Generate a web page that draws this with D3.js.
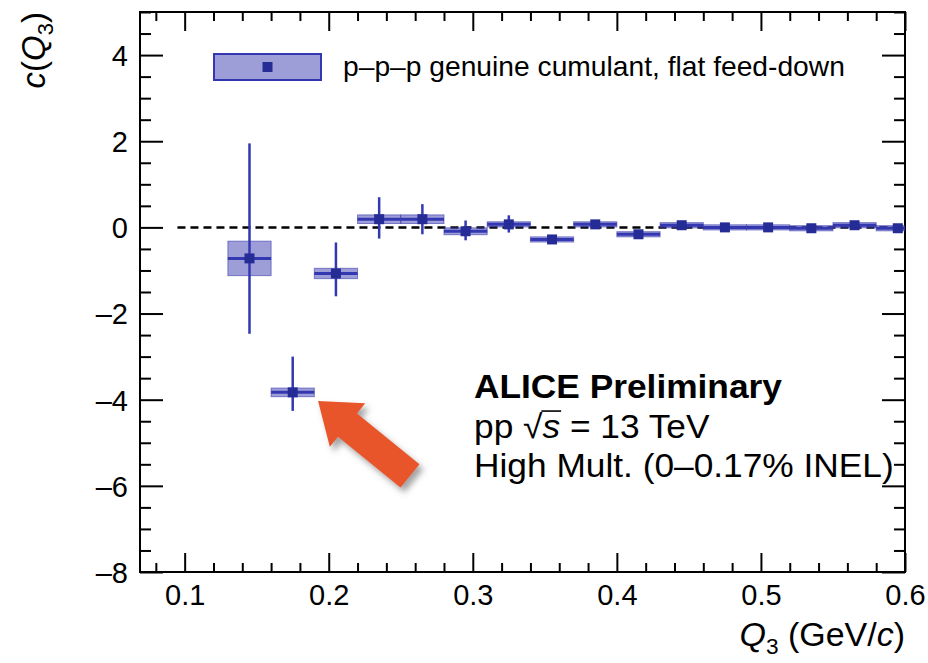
<!DOCTYPE html>
<html><head><meta charset="utf-8">
<script src="https://cdn.jsdelivr.net/npm/d3@7"></script>
<style>
body{margin:0;background:#fff}
svg{display:block}
text{font-family:"Liberation Sans",Arial,Helvetica,sans-serif;fill:#000}
</style>
</head><body>
<svg id="chart" width="928" height="663"></svg>
<script>
// ---- data ----
const q3Centers = [0.145,0.175,0.205,0.235,0.265,0.295,0.325,0.355,0.385,0.415,0.445,0.475,0.505,0.535,0.565,0.595];
const cumulant  = [-0.72,-3.83,-1.07,0.19,0.19,-0.09,0.07,-0.28,0.07,-0.16,0.05,0.0,0.0,-0.02,0.05,-0.02];
const statUp    = [2.67,0.83,0.72,0.51,0.35,0.25,0.21,0.10,0.09,0.08,0.06,0.06,0.06,0.06,0.06,0.06];
const statDown  = [1.75,0.43,0.53,0.45,0.35,0.21,0.19,0.10,0.09,0.08,0.06,0.06,0.06,0.06,0.06,0.06];
const systHalf  = [0.40,0.10,0.12,0.10,0.10,0.08,0.06,0.06,0.06,0.06,0.06,0.06,0.06,0.06,0.06,0.06];
const binHalfWidth = 0.015;
const xMajorTicks = [0.1,0.2,0.3,0.4,0.5,0.6];
const yMajorTicks = [-8,-6,-4,-2,0,2,4];
const legendLabel = "p–p–p genuine cumulant, flat feed-down";
const infoLines = ["ALICE Preliminary", "pp √s = 13 TeV", "High Mult. (0–0.17% INEL)"];
const arrowTip  = [0.1926, -4.03];
const arrowTail = [0.2564, -5.77];

// ---- layout ----
const L = 140, R = 905, T = 12, B = 572;
const x = d3.scaleLinear().domain([0.069, 0.6]).range([L, R]);
const y = d3.scaleLinear().domain([-8, 5]).range([B, T]);

const blue = "#3438b0";
const dark = "#262c96";
const svg = d3.select("#chart");

const defs = svg.append("defs");
defs.append("clipPath").attr("id","plotclip").append("rect")
  .attr("x",L).attr("y",T).attr("width",R-L).attr("height",B-T);
const f = defs.append("filter").attr("id","shadow").attr("x","-30%").attr("y","-30%").attr("width","160%").attr("height","160%");
f.append("feDropShadow").attr("dx",4).attr("dy",5).attr("stdDeviation",3).attr("flood-color","#555").attr("flood-opacity",0.55);

// ---- axes (ticks inward on all four sides) ----
const xMinor = d3.range(0.08, 0.601, 0.02).filter(v => xMajorTicks.every(m => Math.abs(m-v) > 1e-6));
const yMinor = d3.range(-8, 5.01, 0.5).filter(v => yMajorTicks.every(m => Math.abs(m-v) > 1e-6));

function tickGroup(axisFn, scale, pos, values, size, labels){
  const ax = axisFn(scale).tickValues(values).tickSizeInner(-size).tickSizeOuter(0);
  if(labels){ ax.tickFormat(labels).tickPadding(10); } else { ax.tickFormat(""); }
  const g = svg.append("g").attr("transform", pos).call(ax);
  g.select(".domain").remove();
  g.selectAll(".tick line").attr("stroke","#000").attr("stroke-width",2);
  return g;
}
// x axis
const gxb = tickGroup(d3.axisBottom, x, `translate(0,${B})`, xMajorTicks, 19, d3.format(".1f"));
gxb.selectAll(".tick text").attr("font-size",29).attr("y",12).attr("dy","0.71em")
   .style("font-family",'"Liberation Sans",Arial,sans-serif');
tickGroup(d3.axisBottom, x, `translate(0,${B})`, xMinor, 9, null);
tickGroup(d3.axisTop, x, `translate(0,${T})`, xMajorTicks, 19, null);
tickGroup(d3.axisTop, x, `translate(0,${T})`, xMinor, 9, null);
// y axis
const gyl = tickGroup(d3.axisLeft, y, `translate(${L},0)`, yMajorTicks, 23, d => d3.format("d")(d).replace("−","–"));
gyl.selectAll(".tick text").attr("font-size",29).attr("x",-12).attr("dy","0.36em")
   .style("font-family",'"Liberation Sans",Arial,sans-serif');
tickGroup(d3.axisLeft, y, `translate(${L},0)`, yMinor, 11, null);
tickGroup(d3.axisRight, y, `translate(${R},0)`, yMajorTicks, 23, null);
tickGroup(d3.axisRight, y, `translate(${R},0)`, yMinor, 11, null);

// frame
svg.append("rect").attr("x",L).attr("y",T).attr("width",R-L).attr("height",B-T)
  .attr("fill","none").attr("stroke","#000").attr("stroke-width",2);

// ---- axis titles ----
const yt = svg.append("text").attr("transform",`translate(45,${T}) rotate(-90)`)
  .attr("text-anchor","end").attr("font-size",33);
yt.append("tspan").attr("font-style","italic").text("c");
yt.append("tspan").text("(");
yt.append("tspan").attr("font-style","italic").text("Q");
yt.append("tspan").attr("font-size",22).attr("dy",8).text("3");
yt.append("tspan").attr("dy",-8).text(")");

const xt = svg.append("text").attr("transform",`translate(${R},646) scale(1.03,1)`).attr("text-anchor","end").attr("font-size",33);
xt.append("tspan").attr("font-style","italic").text("Q");
xt.append("tspan").attr("font-size",22).attr("dy",8).text("3");
xt.append("tspan").attr("dy",-8).text(" (GeV/");
xt.append("tspan").attr("font-style","italic").text("c");
xt.append("tspan").text(")");

// ---- data ----
const data = q3Centers.map((q,i)=>({q, c:cumulant[i], up:statUp[i], dn:statDown[i], s:systHalf[i]}));
const plot = svg.append("g").attr("clip-path","url(#plotclip)");

// zero line
plot.append("line").attr("x1",x(0.095)).attr("x2",x(0.6)).attr("y1",y(0)).attr("y2",y(0))
  .attr("stroke","#000").attr("stroke-width",2.5).attr("stroke-dasharray","8,5");

// systematic boxes
plot.selectAll("rect.syst").data(data).join("rect").attr("class","syst")
  .attr("x",d=>x(d.q-binHalfWidth)).attr("width",d=>x(d.q+binHalfWidth)-x(d.q-binHalfWidth))
  .attr("y",d=>y(d.c+d.s)).attr("height",d=>y(d.c-d.s)-y(d.c+d.s))
  .attr("fill","rgba(60,62,175,0.5)").attr("stroke","rgba(60,62,175,0.6)").attr("stroke-width",1);

// horizontal (bin width) bars
plot.selectAll("line.xerr").data(data).join("line").attr("class","xerr")
  .attr("x1",d=>x(d.q-binHalfWidth)).attr("x2",d=>x(d.q+binHalfWidth))
  .attr("y1",d=>y(d.c)).attr("y2",d=>y(d.c))
  .attr("stroke",blue).attr("stroke-width",3);
// vertical stat errors
plot.selectAll("line.yerr").data(data).join("line").attr("class","yerr")
  .attr("x1",d=>x(d.q)).attr("x2",d=>x(d.q))
  .attr("y1",d=>y(d.c+d.up)).attr("y2",d=>y(d.c-d.dn))
  .attr("stroke",blue).attr("stroke-width",2.5);
// markers
plot.selectAll("rect.mk").data(data).join("rect").attr("class","mk")
  .attr("x",d=>x(d.q)-5).attr("y",d=>y(d.c)-5).attr("width",10).attr("height",10)
  .attr("fill",dark);

// ---- legend ----
const lg = svg.append("g");
lg.append("rect").attr("x",214).attr("y",54).attr("width",107).attr("height",26)
  .attr("fill","rgba(60,62,175,0.5)").attr("stroke",blue).attr("stroke-width",2);
lg.append("rect").attr("x",267.5-5).attr("y",67-5).attr("width",10).attr("height",10).attr("fill",dark);
lg.append("text").attr("transform","translate(343,76) scale(1.045,1)").attr("font-size",27).text(legendLabel);

// ---- info text ----
const info = svg.append("g");
info.append("text").attr("transform","translate(474,398) scale(1.07,1)").attr("font-size",33).attr("font-weight","bold").text(infoLines[0]);
const g2 = info.append("g").attr("transform","translate(474,438) scale(1.07,1)");
const l2 = g2.append("text").attr("font-size",33);
l2.append("tspan").text("pp ");
l2.append("tspan").text("√");
l2.append("tspan").attr("font-style","italic").text("s");
l2.append("tspan").text(" = 13 TeV");
// overline of the square root
try {
  const rootExt = l2.node().getExtentOfChar(3);
  const sExt = l2.node().getExtentOfChar(4);
  const barY = rootExt.y + 3;
  g2.append("line").attr("x1", rootExt.x + rootExt.width - 1).attr("x2", sExt.x + sExt.width + 1)
    .attr("y1", barY).attr("y2", barY).attr("stroke","#000").attr("stroke-width",1.6);
} catch(e) {}
info.append("text").attr("transform","translate(474,477) scale(1.07,1)").attr("font-size",33).text(infoLines[2]);

// ---- arrow ----
const tx = x(arrowTip[0]), ty = y(arrowTip[1]);
const ex = x(arrowTail[0]), ey = y(arrowTail[1]);
const len = Math.hypot(ex-tx, ey-ty);
const ux = (ex-tx)/len, uy = (ey-ty)/len;   // along arrow toward tail
const px = -uy, py = ux;                      // perpendicular
const headLen = 38, headHalf = 28, shaftHalf = 15;
const pt = (a,b)=>[tx+ux*a+px*b, ty+uy*a+py*b];
const arrowPts = [pt(0,0), pt(headLen,headHalf), pt(headLen,shaftHalf), pt(len,shaftHalf),
                  pt(len,-shaftHalf), pt(headLen,-shaftHalf), pt(headLen,-headHalf)];
svg.append("path").attr("d", d3.line()(arrowPts)+"Z")
  .attr("fill","#e8552a").attr("filter","url(#shadow)");
</script>
</body></html>
